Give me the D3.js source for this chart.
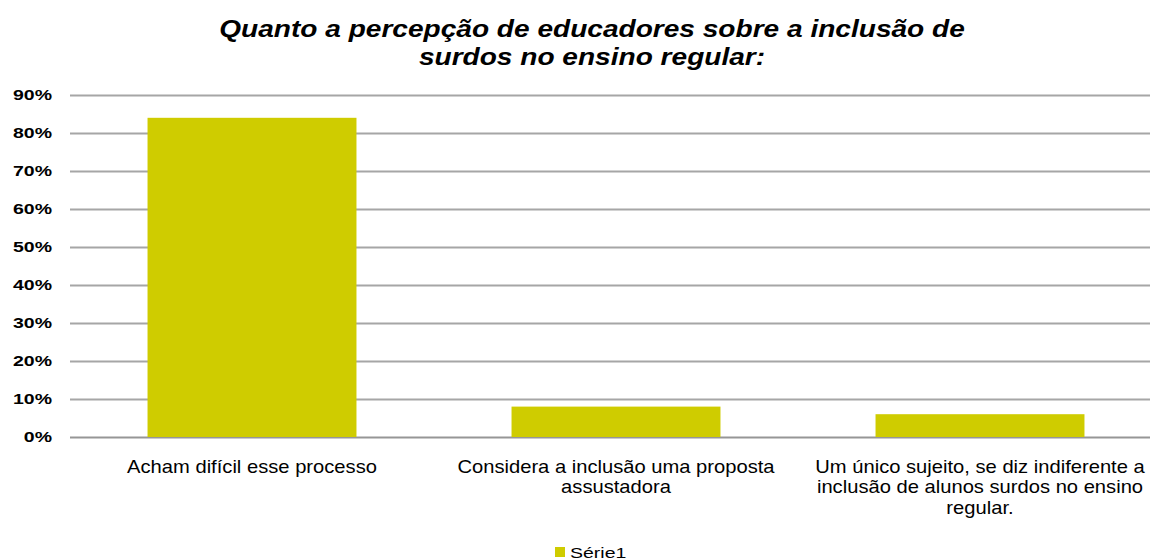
<!DOCTYPE html>
<html>
<head>
<meta charset="utf-8">
<script src="https://cdn.jsdelivr.net/npm/d3@7"></script>
<style>
  html, body { margin: 0; padding: 0; background: #ffffff; }
  svg { display: block; }
  text { font-family: "Liberation Sans", Arial, sans-serif; fill: #000; }
</style>
</head>
<body>
<div id="chart"></div>
<script>
// Survey responses: educators' perception of including deaf students in regular schooling
const categories = [
  ["Acham difícil esse processo"],
  ["Considera a inclusão uma proposta", "assustadora"],
  ["Um único sujeito, se diz indiferente a", "inclusão de alunos surdos no ensino", "regular."]
];
const values = [0.84, 0.08, 0.06];
const yTicks = [0, 0.1, 0.2, 0.3, 0.4, 0.5, 0.6, 0.7, 0.8, 0.9];
const titleLines = ["Quanto a percepção de educadores sobre a inclusão de", "surdos no ensino regular:"];
const seriesName = "Série1";

const W = 1150, H = 560;
const margin = { left: 70, right: -12, top: 95, bottom: 123 };
const barColor = "#cfcc00";
// Text is drawn slightly widened horizontally
const wide = s => `scale(${s},1)`;

const svg = d3.select("#chart").append("svg")
  .attr("width", W).attr("height", H);

const x = d3.scaleBand()
  .domain(d3.range(values.length))
  .range([margin.left, W - margin.right])
  .paddingInner(0.426)
  .paddingOuter(0.213);

const y = d3.scaleLinear()
  .domain([0, 0.9])
  .range([H - margin.bottom, margin.top]);

// Title
svg.append("g").selectAll("g")
  .data(titleLines)
  .join("g")
  .attr("transform", (d, i) => `translate(592,${37 + i * 28}) ${wide(1.17)}`)
  .append("text")
  .attr("text-anchor", "middle")
  .style("font-size", "24px")
  .style("font-weight", "bold")
  .style("font-style", "italic")
  .text(d => d);

// Horizontal gridlines
svg.append("g").selectAll("line")
  .data(yTicks)
  .join("line")
  .attr("x1", margin.left)
  .attr("x2", W)
  .attr("y1", d => Math.round(y(d)) + 0.5)
  .attr("y2", d => Math.round(y(d)) + 0.5)
  .attr("stroke", d => d === 0 ? "#969696" : "#a6a6a6")
  .attr("stroke-width", 2);

// Y axis labels
const yAxis = d3.axisLeft(y)
  .tickValues(yTicks)
  .tickFormat(d3.format(".0%"))
  .tickSize(0)
  .tickPadding(0);

const yg = svg.append("g")
  .attr("transform", `translate(${margin.left - 18},0)`)
  .call(yAxis);
yg.select(".domain").remove();
yg.selectAll("text")
  .attr("transform", wide(1.3))
  .style("font-family", "'Liberation Sans', Arial, sans-serif")
  .style("font-size", "15px")
  .style("font-weight", "bold")
  .attr("fill", "#000");

// Bars
svg.append("g").selectAll("rect")
  .data(values)
  .join("rect")
  .attr("x", (d, i) => x(i))
  .attr("width", x.bandwidth())
  .attr("y", d => y(d))
  .attr("height", d => y(0) - y(d))
  .attr("fill", barColor);

// Category labels
const cat = svg.append("g").selectAll("g")
  .data(categories)
  .join("g")
  .attr("transform", (d, i) => `translate(${x(i) + x.bandwidth() / 2},473) ${wide(1.12)}`)
  .append("text")
  .attr("text-anchor", "middle")
  .style("font-size", "18px");
cat.selectAll("tspan")
  .data(d => d)
  .join("tspan")
  .attr("x", 0)
  .attr("dy", (d, i) => i === 0 ? 0 : 20.5)
  .text(d => d);

// Legend
const legend = svg.append("g").attr("transform", "translate(555,547)");
legend.append("rect")
  .attr("width", 10).attr("height", 10)
  .attr("fill", barColor);
legend.append("g")
  .attr("transform", `translate(15,11) ${wide(1.3)}`)
  .append("text")
  .style("font-size", "15px")
  .text(seriesName);
</script>
</body>
</html>
